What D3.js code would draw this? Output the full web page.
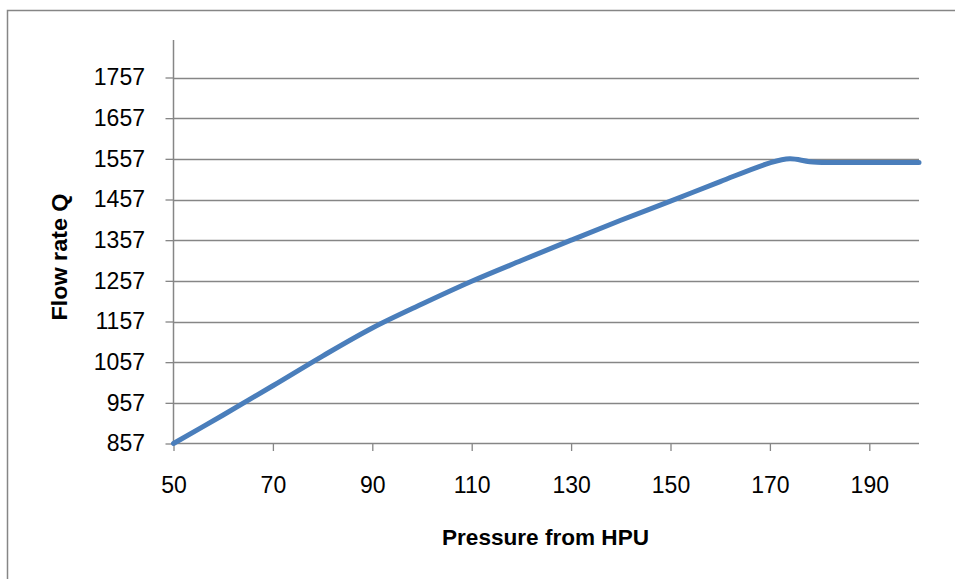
<!DOCTYPE html>
<html>
<head>
<meta charset="utf-8">
<script src="https://cdn.jsdelivr.net/npm/d3@7"></script>
<style>
  html, body { margin: 0; padding: 0; background: #fff; }
  svg { display: block; }
  text { font-family: "Liberation Sans", Arial, sans-serif; fill: #000; }
</style>
</head>
<body>
<svg id="chart" width="955" height="579"></svg>
<script>
// ---- data ----
const pressure = [50, 60, 70, 80, 90, 100, 110, 120, 130, 140, 150, 160, 170, 174, 178, 182, 190, 200];
const flowRate = [857, 927, 999, 1072, 1141, 1200, 1256, 1307, 1357, 1406, 1453, 1501, 1547, 1557, 1550, 1548, 1548, 1548];
const xTicks = [50, 70, 90, 110, 130, 150, 170, 190];
const yTicks = [857, 957, 1057, 1157, 1257, 1357, 1457, 1557, 1657, 1757];
const xTitle = "Pressure from HPU";
const yTitle = "Flow rate Q";

// ---- layout ----
const svg = d3.select("#chart");
const FONT = '"Liberation Sans", Arial, sans-serif';
const left = 173.5, right = 919, bottom = 443.5;
const x = d3.scaleLinear().domain([50, 200]).range([left, right]);
const y = d3.scaleLinear().domain([857, 1757]).range([bottom, 77.5]);
const axisTop = 40;
const grey = "#868686";

// outer frame
svg.append("rect")
  .attr("x", 7.5).attr("y", 10.5)
  .attr("width", 1000).attr("height", 1000)
  .attr("fill", "none").attr("stroke", grey).attr("stroke-width", 1.5);

// gridlines
svg.append("g").selectAll("line").data(yTicks.slice(1)).join("line")
  .attr("x1", left).attr("x2", right)
  .attr("y1", d => Math.round(y(d)) + 0.5).attr("y2", d => Math.round(y(d)) + 0.5)
  .attr("stroke", grey).attr("stroke-width", 1.3);

// y axis
const yAxis = d3.axisLeft(y).tickValues(yTicks).tickSize(8).tickPadding(20.5).tickFormat(d3.format("d"));
const gy = svg.append("g").attr("transform", `translate(${left},0)`).call(yAxis);
gy.attr("font-family", FONT).attr("font-size", 23);
gy.select(".domain").remove();
gy.selectAll(".tick line").attr("stroke", grey).attr("stroke-width", 1.3);
gy.selectAll(".tick text").attr("fill", "#000");
svg.append("line").attr("x1", left).attr("x2", left).attr("y1", axisTop).attr("y2", bottom)
  .attr("stroke", grey).attr("stroke-width", 1.5);

// x axis
const xAxis = d3.axisBottom(x).tickValues(xTicks).tickSize(7.5).tickPadding(26).tickFormat(d3.format("d"));
const gx = svg.append("g").attr("transform", `translate(0,${bottom})`).call(xAxis);
gx.attr("font-family", FONT).attr("font-size", 23);
gx.select(".domain").remove();
gx.selectAll(".tick line").attr("stroke", grey).attr("stroke-width", 1.3);
gx.selectAll(".tick text").attr("fill", "#000");
svg.append("line").attr("x1", left).attr("x2", right).attr("y1", bottom).attr("y2", bottom)
  .attr("stroke", grey).attr("stroke-width", 1.5);

// line
const line = d3.line().x((d, i) => x(pressure[i])).y(d => y(d)).curve(d3.curveCatmullRom.alpha(0.5));
svg.append("path").datum(flowRate)
  .attr("d", line)
  .attr("fill", "none").attr("stroke", "#4a7ebb").attr("stroke-width", 5)
  .attr("stroke-linecap", "round").attr("stroke-linejoin", "round");

// titles
svg.append("text").text(xTitle)
  .attr("x", 545.5).attr("y", 545).attr("text-anchor", "middle")
  .attr("font-family", FONT)
  .attr("font-size", 22).attr("font-weight", "bold")
  .attr("textLength", 207).attr("lengthAdjust", "spacingAndGlyphs");
svg.append("text").text(yTitle)
  .attr("transform", "translate(66.5,257) rotate(-90)")
  .attr("text-anchor", "middle")
  .attr("font-family", FONT)
  .attr("font-size", 22).attr("font-weight", "bold")
  .attr("textLength", 127).attr("lengthAdjust", "spacingAndGlyphs");
</script>
</body>
</html>
